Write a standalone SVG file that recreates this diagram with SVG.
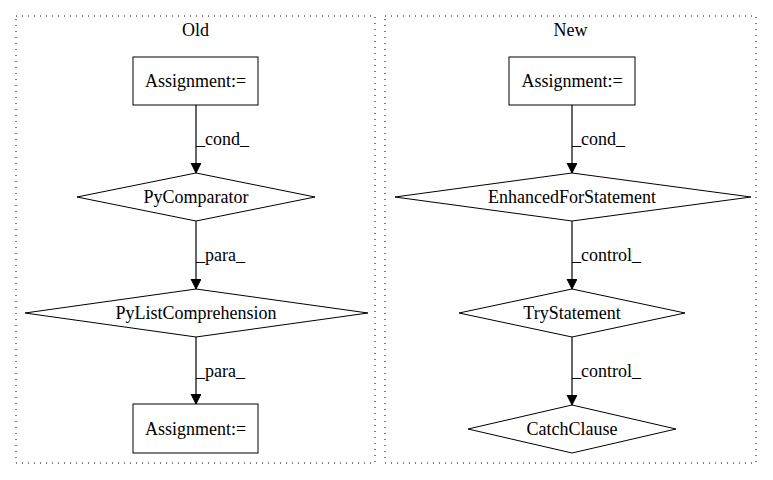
<svg xmlns="http://www.w3.org/2000/svg" width="773" height="480" viewBox="0 0 773 480">
<style>
text{font-family:"Liberation Serif","Times New Roman",serif;font-size:18px;fill:#000}
.c{fill:none;stroke:#000;stroke-dasharray:1,5}
.n{fill:#fff;stroke:#000}
.e{stroke:#000;fill:none;stroke-width:1.2}
.m{text-anchor:middle}
</style>
<defs>
<marker id="a" markerWidth="10" markerHeight="12" refX="10" refY="5" orient="auto" markerUnits="userSpaceOnUse">
<path d="M0,0 L10,5 L0,10 Z" fill="#000" stroke="#000"/>
</marker>
</defs>
<rect width="773" height="480" fill="#fff"/>
<g id="cluster_old">
<rect class="c" x="16" y="16" width="359" height="447"/>
<text class="m" x="195.5" y="36">Old</text>
</g>
<g id="cluster_new">
<rect class="c" x="385" y="16" width="371" height="447"/>
<text class="m" x="570.5" y="36">New</text>
</g>
<g id="connectors">
<path class="e" d="M196,105 L196,173" marker-end="url(#a)"/>
<text x="196" y="145">_cond_</text>
<path class="e" d="M196,221 L196,289" marker-end="url(#a)"/>
<text x="196" y="261">_para_</text>
<path class="e" d="M196,337 L196,404" marker-end="url(#a)"/>
<text x="196" y="377">_para_</text>
<path class="e" d="M572,105 L572,173" marker-end="url(#a)"/>
<text x="572" y="145">_cond_</text>
<path class="e" d="M572,221 L572,289" marker-end="url(#a)"/>
<text x="572" y="261">_control_</text>
<path class="e" d="M572,337 L572,405" marker-end="url(#a)"/>
<text x="572" y="377">_control_</text>
</g>
<g id="old_assign1">
<rect class="n" x="133" y="57" width="125" height="48"/>
<text class="m" x="195.5" y="87">Assignment:=</text>
</g>
<g id="old_pycomparator">
<polygon class="n" points="196,173 315,197 196,221 77,197"/>
<text class="m" x="196" y="203">PyComparator</text>
</g>
<g id="old_pylistcomp">
<polygon class="n" points="196,289 368,313 196,337 25,313"/>
<text class="m" x="196" y="319">PyListComprehension</text>
</g>
<g id="old_assign2">
<rect class="n" x="133" y="404" width="125" height="49"/>
<text class="m" x="195.5" y="434.5">Assignment:=</text>
</g>
<g id="new_assign">
<rect class="n" x="509" y="57" width="126" height="48"/>
<text class="m" x="572" y="87">Assignment:=</text>
</g>
<g id="new_enhancedfor">
<polygon class="n" points="572,173 751,197 572,221 395,197"/>
<text class="m" x="572" y="203">EnhancedForStatement</text>
</g>
<g id="new_try">
<polygon class="n" points="572,289 685,313 572,337 459,313"/>
<text class="m" x="572" y="319">TryStatement</text>
</g>
<g id="new_catch">
<polygon class="n" points="572,405 676,429 572,453 468,429"/>
<text class="m" x="572" y="435">CatchClause</text>
</g>
</svg>
